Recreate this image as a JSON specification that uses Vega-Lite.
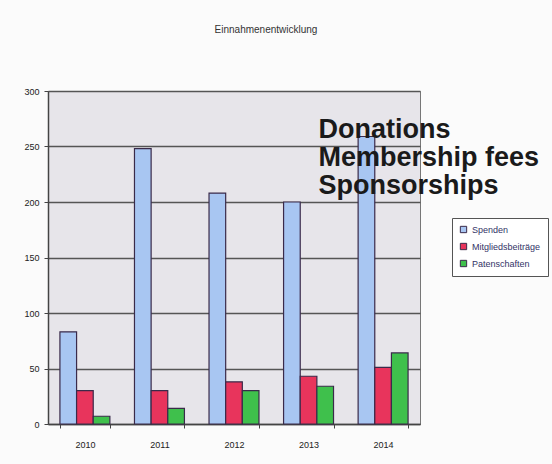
{
  "$schema": "https://vega.github.io/schema/vega-lite/v6.json",
  "width": 372,
  "height": 333,
  "autosize": {"type": "none"},
  "padding": {"left": 48, "top": 91, "right": 132, "bottom": 40},
  "background": "#fbfbfb",
  "title": {
    "text": "Einnahmenentwicklung",
    "anchor": "middle",
    "dx": 32,
    "offset": 44,
    "baseline": "alphabetic",
    "fontSize": 10,
    "font": "Liberation Sans",
    "fontWeight": "normal",
    "color": "#333333"
  },
  "config": {
    "view": {"fill": "#e7e5ea", "stroke": "#777777", "strokeWidth": 1},
    "font": "Liberation Sans"
  },
  "layer": [
    {
      "data": {
        "values": [
          {"year": "2010", "series": "Spenden", "value": 83},
          {"year": "2010", "series": "Mitgliedsbeiträge", "value": 30},
          {"year": "2010", "series": "Patenschaften", "value": 7},
          {"year": "2011", "series": "Spenden", "value": 248},
          {"year": "2011", "series": "Mitgliedsbeiträge", "value": 30},
          {"year": "2011", "series": "Patenschaften", "value": 14},
          {"year": "2012", "series": "Spenden", "value": 208},
          {"year": "2012", "series": "Mitgliedsbeiträge", "value": 38},
          {"year": "2012", "series": "Patenschaften", "value": 30},
          {"year": "2013", "series": "Spenden", "value": 200},
          {"year": "2013", "series": "Mitgliedsbeiträge", "value": 43},
          {"year": "2013", "series": "Patenschaften", "value": 34},
          {"year": "2014", "series": "Spenden", "value": 259},
          {"year": "2014", "series": "Mitgliedsbeiträge", "value": 51},
          {"year": "2014", "series": "Patenschaften", "value": 64}
        ]
      },
      "mark": {"type": "bar", "stroke": "#3a2a4a", "strokeWidth": 1.2},
      "encoding": {
        "x": {
          "field": "year",
          "type": "nominal",
          "scale": {"paddingInner": 0.33, "paddingOuter": 0.16},
          "axis": {
            "title": null,
            "labelAngle": 0,
            "labelFontSize": 9,
            "labelColor": "#222222",
            "labelPadding": 12,
            "tickBand": "extent",
            "tickSize": 4,
            "tickColor": "#444444",
            "domainColor": "#444444",
            "domainWidth": 1.5,
            "grid": false
          }
        },
        "xOffset": {
          "field": "series",
          "sort": ["Spenden", "Mitgliedsbeiträge", "Patenschaften"],
          "scale": {"paddingInner": 0, "paddingOuter": 0}
        },
        "y": {
          "field": "value",
          "type": "quantitative",
          "scale": {"domain": [0, 300]},
          "axis": {
            "title": null,
            "values": [0, 50, 100, 150, 200, 250, 300],
            "labelFontSize": 9,
            "labelColor": "#222222",
            "labelPadding": 5,
            "tickSize": 4,
            "tickColor": "#444444",
            "domainColor": "#444444",
            "domainWidth": 1.5,
            "gridColor": "#555555",
            "gridWidth": 1.5
          }
        },
        "color": {
          "field": "series",
          "type": "nominal",
          "sort": ["Spenden", "Mitgliedsbeiträge", "Patenschaften"],
          "scale": {
            "domain": ["Spenden", "Mitgliedsbeiträge", "Patenschaften"],
            "range": ["#a8c6f2", "#e8345c", "#3fc04c"]
          },
          "legend": {
            "title": null,
            "orient": "none",
            "legendX": 404,
            "legendY": 127,
            "symbolType": "square",
            "symbolSize": 40,
            "symbolStrokeColor": "#3a2a4a",
            "symbolStrokeWidth": 1,
            "labelFontSize": 9,
            "labelColor": "#333366",
            "labelOffset": 4,
            "rowPadding": 6,
            "padding": 7,
            "strokeColor": "#555555",
            "fillColor": "#ffffff"
          }
        }
      }
    },
    {
      "data": {"values": [{"year": "2013", "pos": 277}]},
      "mark": {
        "type": "text",
        "text": ["Donations", "Membership fees", "Sponsorships"],
        "align": "left",
        "baseline": "top",
        "fontSize": 27,
        "fontWeight": "bold",
        "font": "Liberation Sans",
        "lineHeight": 28,
        "dx": 10,
        "color": "#1a1a1a"
      },
      "encoding": {
        "x": {"field": "year", "type": "nominal"},
        "y": {"field": "pos", "type": "quantitative"}
      }
    }
  ]
}
